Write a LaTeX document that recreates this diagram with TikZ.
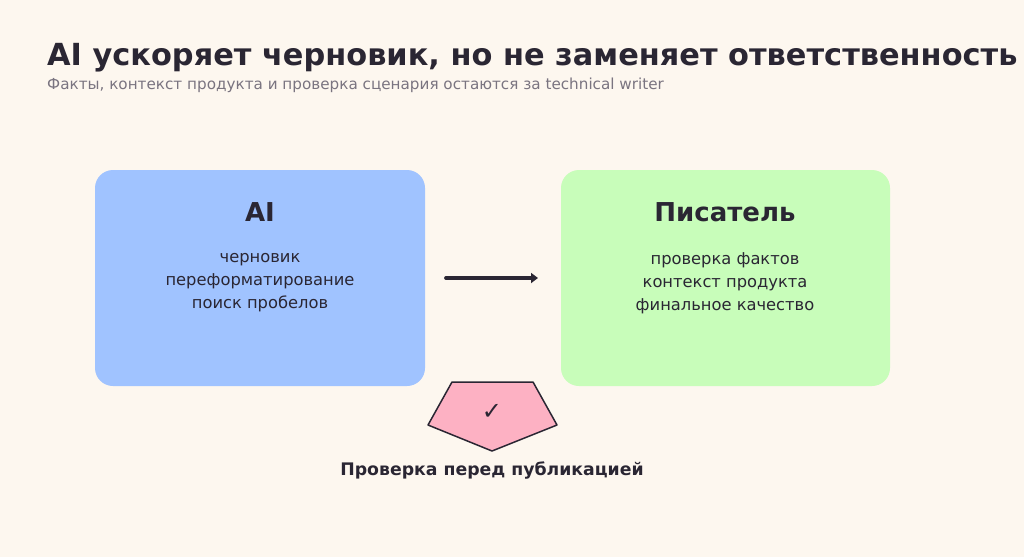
\documentclass[tikz,border=0pt]{standalone}
\usepackage{fontspec}
\setmainfont{DejaVu Sans}
\usetikzlibrary{arrows.meta}
\definecolor{bg}{HTML}{FDF7EF}
\definecolor{ink}{HTML}{2A2633}
\definecolor{blu}{HTML}{A0C3FF}
\definecolor{grn}{HTML}{C8FDBA}
\definecolor{pnk}{HTML}{FDB1C3}
\definecolor{sub}{HTML}{7A7480}
\begin{document}
\begin{tikzpicture}[x=1pt,y=-1pt,
  box/.style={rounded corners=18pt},
  head/.style={font=\fontsize{26}{30}\bfseries\selectfont,text=ink},
  body/.style={font=\fontsize{16.3}{23}\selectfont,text=ink,align=center}]
\fill[bg] (0,0) rectangle (1024,557);
\useasboundingbox (0,0) rectangle (1024,557);
\node[anchor=west,inner sep=0pt,font=\fontsize{30.4}{34}\bfseries\selectfont,text=ink] (title) at (47,58) {AI ускоряет черновик, но не заменяет ответственность};
\node[anchor=west,inner sep=0pt,font=\fontsize{15.2}{17}\selectfont,text=sub] (subtitle) at (47,85) {Факты, контекст продукта и проверка сценария остаются за technical writer};
\fill[blu,box] (95,170) rectangle (425,386);
\node[head] (aih) at (260,212) {AI};
\node[body] (aib) at (260,283) {черновик\\переформатирование\\поиск пробелов};
\fill[grn,box] (561,170) rectangle (890,386);
\node[head] (wrh) at (725,212) {Писатель};
\node[body] (wrb) at (725,283) {проверка фактов\\контекст продукта\\финальное качество};
\coordinate (a1) at (446,278);
\coordinate (a2) at (538,278);
\draw[ink,line width=3.8pt,line cap=round,-{Triangle[length=7pt,width=10pt]}] (a1) -- (a2);
\draw[ink,fill=pnk,line width=1.5pt,line join=round] (452,382) -- (533,382) -- (557,425) -- (492,451) -- (428,425) -- cycle;
\node[font=\fontsize{24}{26}\bfseries\selectfont,text=ink] (chk) at (492,412) {✓};
\node[font=\fontsize{17.3}{19}\bfseries\selectfont,text=ink] (cap) at (492,471) {Проверка перед публикацией};
\end{tikzpicture}
\end{document}
